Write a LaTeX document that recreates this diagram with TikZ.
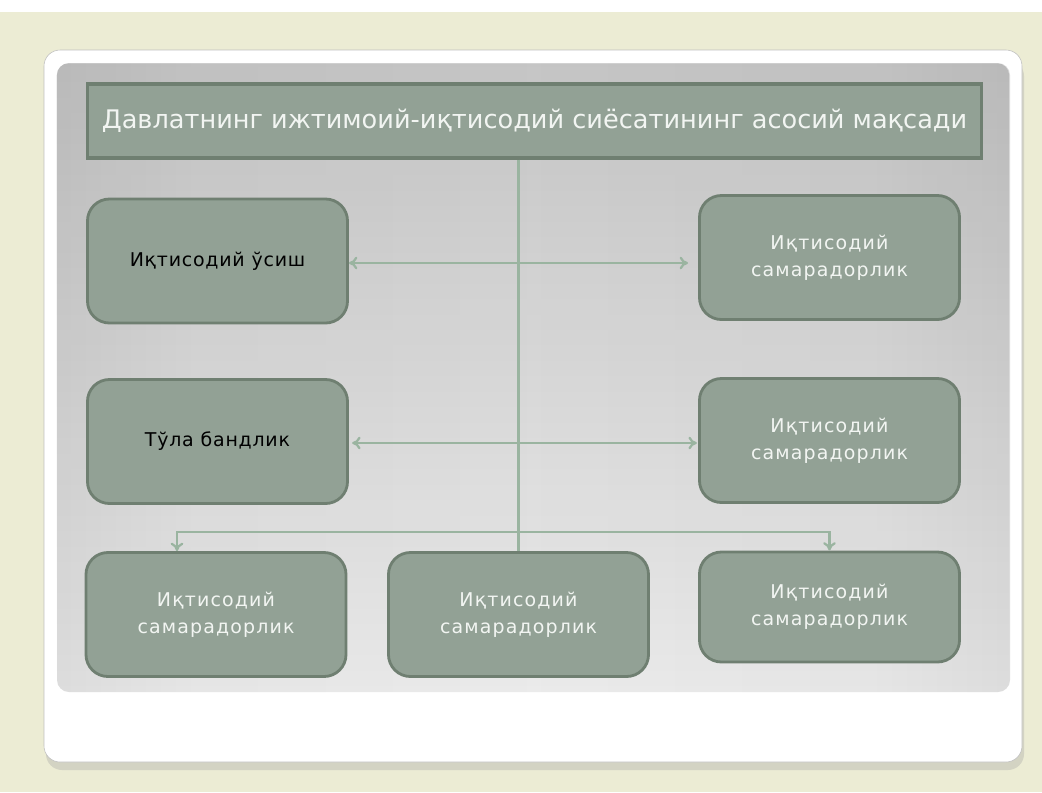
\documentclass[tikz,border=0pt]{standalone}
\usepackage{fontspec}
\setmainfont{DejaVu Sans}
\usetikzlibrary{arrows.meta,shadows,fadings}
\definecolor{pagebg}{HTML}{ECECD4}
\definecolor{boxfill}{HTML}{92A195}
\definecolor{boxline}{HTML}{6F7F71}
\definecolor{linkcol}{HTML}{9AB4A0}
\definecolor{lighttext}{HTML}{F2F5F2}
\pgfdeclarehorizontalshading{panelshade}{100bp}{%
  color(0bp)=(black!40); color(6bp)=(black!32); color(16bp)=(black!18);
  color(32bp)=(black!10); color(50bp)=(black!8); color(68bp)=(black!10);
  color(84bp)=(black!18); color(94bp)=(black!32); color(100bp)=(black!40)}
\tikzfading[name=panelfade, top color=transparent!84, bottom color=transparent!100]
\begin{document}
\begin{tikzpicture}
        [
            x=0.025cm, y=-0.025cm,
            goal/.style={draw=boxline, line width=2.2pt, fill=boxfill, inner sep=0pt,
                minimum width=22.35cm, minimum height=1.85cm,
                font=\fontsize{18.2}{22}\selectfont, text=lighttext},
            block/.style={draw=boxline, line width=2pt, fill=boxfill, rounded corners=0.55cm,
                inner sep=0pt, minimum width=6.5cm, minimum height=3.1cm, align=center,
                font=\fontsize{13.5}{19}\selectfont\addfontfeatures{LetterSpace=6}, text=lighttext},
            dark/.style={text=black, font=\fontsize{13.5}{19}\selectfont\addfontfeatures{LetterSpace=4}},
            link/.style={draw=linkcol, line width=1.6pt},
            >={To[length=6pt,width=9pt]},
        ]
        % background and card
        \fill[white] (0,0) rectangle (1042,792);
        \fill[pagebg] (0,12) rectangle (1042,792);
        \fill[black!35, opacity=0.35, rounded corners=0.4cm] (46,60) rectangle (1024,770);
        \filldraw[fill=white, draw=black!25, rounded corners=0.4cm] (44,50) rectangle (1022,762);
        \shade[shading=panelshade, rounded corners=0.3cm] (57,63) rectangle (1010,692);
        \fill[black, path fading=panelfade, rounded corners=0.3cm] (57,63) rectangle (1010,692);

        % boxes
        \node[goal] (goal) at (534.5,121) {Давлатнинг ижтимоий-иқтисодий сиёсатининг асосий мақсади};
        \node[block,dark] (growth) at (217.5,261) {Иқтисодий ўсиш};
        \node[block,dark] (employ) at (217.5,441.5) {Тўла бандлик};
        \node[block] (effA) at (829.5,257.5) {Иқтисодий\\самарадорлик};
        \node[block] (effB) at (829.5,440.5) {Иқтисодий\\самарадорлик};
        \node[block] (effC) at (216,614.5) {Иқтисодий\\самарадорлик};
        \node[block] (effD) at (518.5,614.5) {Иқтисодий\\самарадорлик};
        \node[block, minimum height=2.75cm] (effE) at (829.5,607) {Иқтисодий\\самарадорлик};

        % connectors
        \coordinate (fork) at (519,532);
        \draw[link] (goal.south -| effD.north) -- (effD.north);
        \draw[link,<->] (growth.east |- 0,263) -- ([xshift=-0.25cm]effA.west |- 0,263);
        \draw[link,<->] ([xshift=0.08cm]employ.east |- 0,443) -- ([xshift=-0.03cm]effB.west |- 0,443);
        \draw[link,->] (fork) -| ([xshift=-0.975cm]effC.north);
        \draw[link,->] (fork) -| (effE.north);
\end{tikzpicture}
\end{document}
